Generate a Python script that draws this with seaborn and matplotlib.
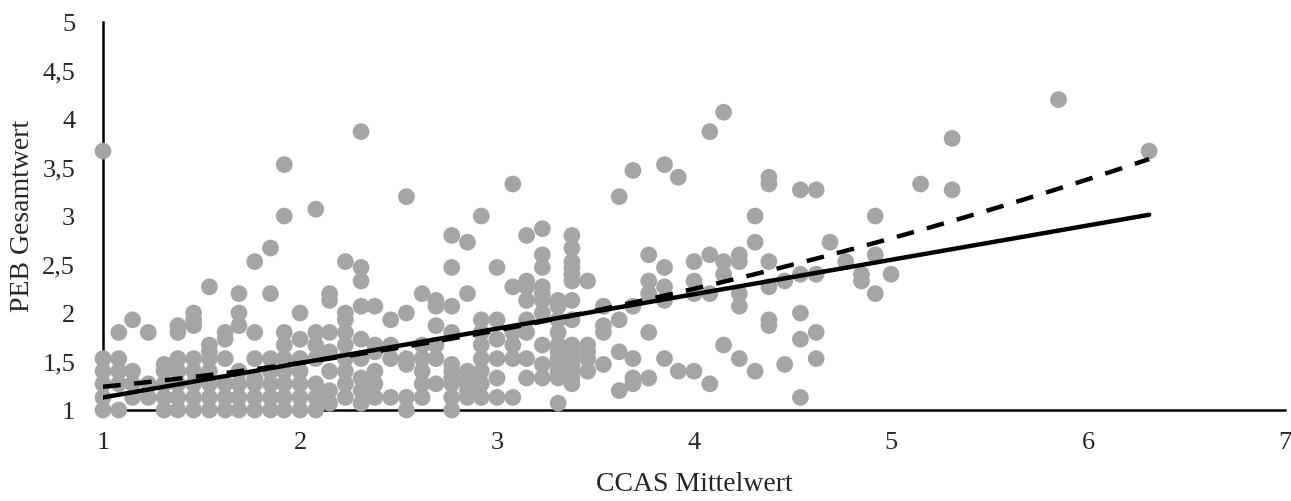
import numpy as np
import pandas as pd
import matplotlib
matplotlib.use("Agg")
import matplotlib.pyplot as plt
import seaborn as sns

# CCAS mean values (columns) and the PEB values stacked in each column
ccas_cols = [1.00, 1.08, 1.15, 1.23, 1.31, 1.38, 1.46, 1.54, 1.62, 1.69,
             1.77, 1.85, 1.92, 2.00, 2.08, 2.15, 2.23, 2.31, 2.38, 2.46,
             2.54, 2.62, 2.69, 2.77, 2.85, 2.92, 3.00, 3.08, 3.15, 3.23,
             3.31, 3.38, 3.46, 3.54, 3.62, 3.69, 3.77, 3.85, 3.92, 4.00,
             4.08, 4.15, 4.23, 4.31, 4.38, 4.46, 4.54, 4.62, 4.69, 4.77,
             4.85, 4.92, 5.00, 5.15, 5.31, 5.85, 6.31]
peb_cols = [
    [1.0, 1.13, 1.27, 1.4, 1.53, 3.67],
    [1.0, 1.27, 1.4, 1.53, 1.8],
    [1.13, 1.27, 1.4, 1.93],
    [1.13, 1.27, 1.8],
    [1.0, 1.13, 1.27, 1.4, 1.47],
    [1.0, 1.13, 1.27, 1.4, 1.53, 1.8, 1.87],
    [1.0, 1.13, 1.27, 1.4, 1.53, 1.87, 1.93, 2.0],
    [1.0, 1.13, 1.27, 1.4, 1.53, 1.6, 1.67, 2.27],
    [1.0, 1.13, 1.27, 1.53, 1.73, 1.8],
    [1.0, 1.13, 1.27, 1.4, 1.87, 2.0, 2.2],
    [1.0, 1.13, 1.27, 1.33, 1.53, 1.8, 2.53],
    [1.0, 1.13, 1.27, 1.4, 1.53, 2.2, 2.67],
    [1.0, 1.13, 1.27, 1.4, 1.53, 1.67, 1.8, 3.0, 3.53],
    [1.0, 1.13, 1.27, 1.4, 1.53, 1.73, 2.0],
    [1.0, 1.13, 1.27, 1.53, 1.67, 1.8, 3.07],
    [1.07, 1.2, 1.4, 1.6, 1.8, 2.13, 2.2],
    [1.13, 1.27, 1.4, 1.53, 1.67, 1.8, 1.93, 2.0, 2.53],
    [1.07, 1.2, 1.33, 1.53, 1.73, 2.07, 2.33, 2.47, 3.87],
    [1.13, 1.27, 1.4, 1.6, 1.67, 2.07],
    [1.13, 1.53, 1.67, 1.93],
    [1.0, 1.13, 1.47, 1.53, 2.0, 3.2],
    [1.13, 1.27, 1.4, 1.53, 1.67, 2.2],
    [1.27, 1.53, 1.67, 1.87, 2.07, 2.13],
    [1.0, 1.13, 1.27, 1.33, 1.4, 1.47, 1.8, 2.07, 2.47, 2.8],
    [1.13, 1.2, 1.27, 1.33, 1.4, 2.2, 2.73],
    [1.13, 1.27, 1.4, 1.53, 1.67, 1.8, 1.93, 3.0],
    [1.13, 1.33, 1.53, 1.73, 1.93, 2.47],
    [1.13, 1.53, 1.67, 1.8, 2.27, 3.33],
    [1.33, 1.53, 1.8, 1.93, 2.13, 2.27, 2.33, 2.8],
    [1.33, 1.47, 1.67, 2.0, 2.13, 2.2, 2.27, 2.47, 2.6, 2.87],
    [1.07, 1.33, 1.4, 1.47, 1.53, 1.6, 1.67, 1.8, 1.93, 2.07, 2.13],
    [1.27, 1.33, 1.4, 1.47, 1.53, 1.6, 1.67, 1.93, 2.13, 2.33, 2.4, 2.47, 2.53, 2.67, 2.8],
    [1.4, 1.53, 1.6, 1.67, 2.33],
    [1.47, 1.8, 1.87, 2.07],
    [1.2, 1.6, 1.93, 3.2],
    [1.27, 1.33, 1.53, 2.07, 3.47],
    [1.33, 1.8, 2.2, 2.33, 2.6],
    [1.53, 2.13, 2.27, 2.47, 3.53],
    [1.4, 3.4],
    [1.4, 2.2, 2.33, 2.53],
    [1.27, 2.2, 2.6, 3.87],
    [1.67, 2.4, 2.53, 4.07],
    [1.53, 2.07, 2.2, 2.53, 2.6],
    [1.4, 2.73, 3.0],
    [1.87, 1.93, 2.27, 2.53, 3.33, 3.4],
    [1.47, 2.33],
    [1.13, 1.73, 2.0, 2.4, 3.27],
    [1.53, 1.8, 2.4, 3.27],
    [2.73],
    [2.53],
    [2.33, 2.4],
    [2.2, 2.6, 3.0],
    [2.4],
    [3.33],
    [3.27, 3.8],
    [4.2],
    [3.67],
]

# trend lines as shown in the figure
lin_coef = [0.775, 0.3547]            # intercept, slope
quad_coef = [1.0857, 0.1087, 0.0456]  # c0, c1, c2

xticks = [1, 2, 3, 4, 5, 6, 7]
yticks = [1, 1.5, 2, 2.5, 3, 3.5, 4, 4.5, 5]
ytick_labels = ["1", "1,5", "2", "2,5", "3", "3,5", "4", "4,5", "5"]

ccas = []
peb = []
for xv, ys in zip(ccas_cols, peb_cols):
    for yv in ys:
        ccas.append(xv)
        peb.append(yv)
df = pd.DataFrame({"ccas": ccas, "peb": peb})

xs = np.linspace(min(ccas), max(ccas), 100)
trend = pd.DataFrame({
    "x": xs,
    "lin": lin_coef[0] + lin_coef[1] * xs,
    "quad": quad_coef[0] + quad_coef[1] * xs + quad_coef[2] * xs ** 2,
})

sns.set_style("white")
plt.rcParams["font.family"] = ["Liberation Serif", "DejaVu Serif"]

fig = plt.figure(figsize=(12.91, 5.01), dpi=100)
ax = fig.add_axes([0.0798, 0.1816, 0.9156, 0.7744])

sns.scatterplot(data=df, x="ccas", y="peb", ax=ax, s=145, color="#a5a5a5",
                edgecolor="none", clip_on=False, zorder=2)
sns.lineplot(data=trend, x="x", y="lin", ax=ax, color="black", lw=3.2, zorder=3)
sns.lineplot(data=trend, x="x", y="quad", ax=ax, color="black", lw=3.2,
             zorder=3, linestyle=(0, (4, 3)))

ax.set_xlim(1, 7)
ax.set_ylim(1, 5)
ax.set_xticks(xticks)
ax.set_xticklabels([str(t) for t in xticks])
ax.set_yticks(yticks)
ax.set_yticklabels(ytick_labels)
ax.tick_params(length=0, labelsize=19, pad=16)
ax.tick_params(axis="y", pad=20)
for side in ["top", "right"]:
    ax.spines[side].set_visible(False)
for side in ["left", "bottom"]:
    ax.spines[side].set_color("black")
    ax.spines[side].set_linewidth(1.8)
    ax.spines[side].set_zorder(1)
ax.set_xlabel("CCAS Mittelwert", fontsize=20, labelpad=13)
ax.set_ylabel("PEB Gesamtwert", fontsize=20, labelpad=5)

fig.savefig("out.png", dpi=100)
